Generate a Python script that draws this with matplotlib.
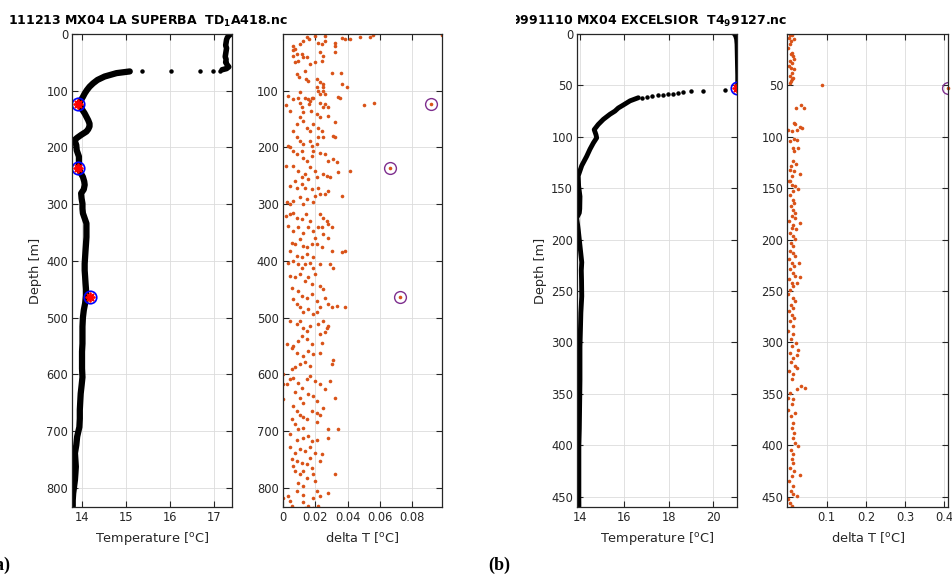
import matplotlib.pyplot as plt
from matplotlib.transforms import Bbox, TransformedBbox

# ---------------- (a) 111213 MX04 LA SUPERBA, TD1A418 ----------------
# temperature, mixed layer above the jump
depth_a_top = [0, 3, 6, 10, 15, 20, 25, 30, 35, 40, 45, 50, 55, 58, 61, 63]
temp_a_top = [17.38, 17.33, 17.30, 17.28, 17.27, 17.26, 17.28, 17.27,
              17.26, 17.25, 17.27, 17.26, 17.30, 17.33, 17.28, 17.18]
# isolated samples across the jump
depth_a_jump = [66, 66, 66, 66, 65]
temp_a_jump = [15.36, 16.03, 16.69, 16.97, 17.14]
# below the jump
depth_a = [66, 69, 75, 81, 87, 93, 99, 105, 111, 116,
           123, 128, 134, 140, 146, 152, 158, 163, 168, 172,
           178, 183, 187, 196, 205, 216, 228, 237, 245, 252,
           260, 266, 274, 281, 290, 299, 308, 316, 325, 334,
           346, 358, 370, 381, 393, 405, 417, 428, 440, 450,
           461, 475, 487, 500, 516, 531, 546, 560, 575, 590,
           605, 620, 634, 648, 663, 678, 693, 710, 725, 739,
           751, 763, 775, 786, 798, 810, 822, 833]
temp_a = [15.09, 14.79, 14.52, 14.36, 14.26, 14.18, 14.12, 14.07, 14.03, 13.99,
          13.94, 13.98, 14.02, 14.07, 14.11, 14.15, 14.18, 14.18, 14.15, 14.11,
          13.99, 13.90, 13.84, 13.88, 13.89, 13.94, 13.94, 13.93, 13.98, 14.03,
          14.06, 14.07, 14.05, 13.99, 14.00, 14.02, 14.02, 14.03, 14.07, 14.11,
          14.11, 14.11, 14.10, 14.09, 14.08, 14.07, 14.07, 14.08, 14.09, 14.10,
          14.10, 14.08, 14.05, 14.03, 14.02, 14.02, 14.02, 14.01, 14.01, 14.01,
          14.02, 14.00, 13.98, 13.97, 13.96, 13.96, 13.95, 13.90, 13.88, 13.85,
          13.86, 13.87, 13.86, 13.85, 13.83, 13.81, 13.80, 13.80]

# delta T samples
dt_depth_a = [21, 26, 29, 18, 12, 6, 9, 15, 18, 12, 15, 21, 7, 9, 9, 6, 6, 1, 3, 3, 2,
              38, 35, 36, 41, 40, 50, 48, 53, 50, 32, 47, 38, 32, 68, 68, 88, 93, 112, 111,
              71, 76, 65, 79, 82, 79, 85, 88, 94, 100, 100, 105, 103, 109, 112, 118, 112, 94,
              126, 135, 115, 112, 121, 129, 138, 115, 124, 135,
              112, 106, 121, 129, 124, 129, 125, 122, 141, 147,
              147, 153, 159, 165, 171, 159, 165, 171, 144, 156,
              179, 182, 171, 182, 188, 194, 188, 197, 194, 182, 182, 197,
              200, 206, 212, 206, 218, 224, 215, 206, 209, 212,
              224, 221, 226, 244, 241, 232, 232, 241, 253, 247,
              256, 235, 241, 253, 247, 250, 253, 259, 268, 271,
              265, 271, 274, 271, 282, 276, 282, 285, 297, 300,
              294, 288, 300, 291, 297, 285,
              321, 318, 315, 324, 326, 318, 329, 318, 324, 329,
              335, 341, 338, 347, 341, 350, 341, 347, 359, 341,
              341, 353, 359, 368, 371, 362, 374, 376, 371, 371,
              376, 382, 385, 382, 382, 391, 394, 388, 394,
              403, 400, 406, 412, 406, 403, 412, 406, 406, 412,
              426, 429, 424, 435, 429, 441, 424, 444, 450, 465,
              476, 482, 479, 482, 447, 453, 462, 465, 459, 471,
              482, 468, 476, 482, 491, 485, 494, 491,
              506, 512, 506, 518, 524, 515, 512, 506, 518, 515,
              547, 550, 541, 532, 538, 547, 529, 544, 526, 553,
              562, 568, 559, 565, 562, 574, 581, 591, 588, 582,
              579, 585, 600,
              618, 618, 609, 606, 615, 624, 609, 603, 612, 618,
              626, 612, 644, 632, 641, 650, 635, 638, 647, 659,
              641, 656, 665, 671, 676, 679, 665, 668, 671, 679,
              688, 697, 694, 685, 697, 697,
              706, 715, 712, 709, 718, 715, 712, 729, 738, 732,
              735, 729, 738, 741, 750, 753, 756, 759, 747, 753,
              762, 771, 776, 771, 782, 765, 776, 776, 791, 797, 788,
              818, 815, 824, 832, 806, 812, 826, 832, 818, 806, 815, 809, 832, 835, 835]
dt_a = [.0066, .0076, .0062, .0107, .0128, .0148, .0165, .0220, .0241, .0262,
        .0323, .0323, .0365, .0385, .0416, .0474, .0536, .0560, .0200, .0262, .0985,
        .0066, .0086, .0117, .0128, .0148, .0076, .0097, .0169, .0200, .0231,
        .0241, .0251, .0323, .0303, .0361, .0365, .0396, .0354, .0344,
        .0086, .0103, .0138, .0144, .0159, .0210, .0231, .0251, .0247, .0220,
        .0251, .0262, .0107, .0035, .0138, .0169, .0179, .0210,
        .0021, .0045, .0066, .0097, .0107, .0117, .0128, .0159, .0165, .0173,
        .0190, .0231, .0231, .0251, .0262, .0282, .0499, .0564, .0210, .0231,
        .0107, .0128, .0086, .0148, .0169, .0190, .0220, .0241, .0282, .0323,
        .0313, .0323, .0066, .0086, .0107, .0128, .0169, .0179, .0210, .0220, .0251, .0035,
        .0045, .0066, .0086, .0117, .0128, .0148, .0179, .0190, .0231, .0262,
        .0282, .0313, .0334, .0344, .0416, .0021, .0066, .0097, .0117, .0138,
        .0159, .0169, .0200, .0210, .0251, .0272, .0293, .0076, .0045, .0086,
        .0117, .0138, .0179, .0220, .0231, .0282, .0262, .0365, .0025, .0045,
        .0066, .0107, .0128, .0148, .0185, .0200,
        .0021, .0045, .0066, .0086, .0117, .0144, .0169, .0231, .0251, .0272,
        .0282, .0303, .0035, .0066, .0097, .0128, .0159, .0190, .0200, .0220,
        .0241, .0251, .0282, .0056, .0076, .0107, .0128, .0148, .0179, .0210,
        .0241, .0303, .0365, .0385, .0045, .0086, .0117, .0148, .0190,
        .0035, .0066, .0097, .0117, .0138, .0169, .0190, .0231, .0293, .0313,
        .0045, .0076, .0107, .0138, .0159, .0179, .0200, .0231, .0251, .0262,
        .0282, .0303, .0334, .0385, .0056, .0097, .0117, .0148, .0179, .0210,
        .0231, .0066, .0086, .0107, .0128, .0159, .0185, .0210,
        .0045, .0086, .0107, .0128, .0148, .0169, .0220, .0251, .0272, .0282,
        .0025, .0066, .0097, .0117, .0148, .0179, .0231, .0241, .0262, .0056,
        .0086, .0128, .0159, .0190, .0231, .0313, .0303, .0056, .0076, .0107,
        .0138, .0169, .0004,
        .0004, .0025, .0045, .0066, .0097, .0117, .0148, .0169, .0200, .0231,
        .0262, .0293, .0004, .0076, .0107, .0128, .0159, .0190, .0210, .0251,
        .0323, .0066, .0086, .0107, .0128, .0148, .0179, .0210, .0231, .0056,
        .0076, .0097, .0128, .0210, .0282, .0344,
        .0045, .0086, .0128, .0159, .0179, .0210, .0282, .0045, .0076, .0107,
        .0138, .0169, .0200, .0241, .0056, .0086, .0117, .0148, .0169, .0231,
        .0066, .0076, .0107, .0128, .0148, .0179, .0190, .0323, .0097, .0128, .0200,
        .0004, .0035, .0045, .0056, .0086, .0128, .0128, .0159, .0190, .0210,
        .0231, .0282, .0220, .0138, .0190]

# flagged samples (spikes)
flag_depth_a = [123, 237, 463]
flag_temp_a = [13.93, 13.93, 14.18]
flag_dt_a = [0.0915, 0.0663, 0.0725]

# ---------------- (b) 9991110 MX04 EXCELSIOR, T49127 ----------------
depth_b_top = [0, 2, 5, 10, 20, 30, 40, 50, 54]
temp_b_top = [20.93, 20.99, 21.03, 21.05, 21.06, 21.07, 21.08, 21.08, 21.08]
depth_b_jump = [54.9, 55.3, 55.9, 56.6, 57.2, 57.9, 58.5, 59.1, 59.8, 60.4, 61.1, 62.0]
temp_b_jump = [20.53, 19.52, 18.98, 18.65, 18.43, 18.20, 17.98, 17.75, 17.50, 17.23,
               17.00, 16.78]
depth_b = [62, 65, 69, 72, 75, 78, 83, 88, 93, 98,
           101, 106, 112, 119, 128, 138, 148, 158, 170, 174,
           179, 185, 190, 198, 206, 214, 222, 230, 239, 255,
           271, 288, 304, 320, 336, 352, 368, 384, 401, 417,
           433, 446, 460]
temp_b = [16.63, 16.26, 15.96, 15.73, 15.58, 15.36, 15.06, 14.83, 14.65, 14.73,
          14.76, 14.61, 14.46, 14.31, 14.09, 13.93, 13.95, 14.01, 14.00, 13.98,
          13.86, 13.90, 13.93, 13.97, 14.01, 14.05, 14.09, 14.07, 14.08, 14.09,
          14.05, 14.03, 14.01, 14.01, 14.01, 14.00, 13.99, 13.98, 13.96, 13.96,
          13.96, 13.96, 13.96]

dt_depth_b = [0.5, 0.5, 3.7, 7, 5.3, 10.2, 13.5, 18.3, 19.9, 21.5,
              24.1, 26.4, 28, 31.3, 32.9, 34.5, 37.8, 41, 42.6, 44.2, 45.8, 47.5, 50,
              71.8, 69.5, 72.4, 86.4, 87.4, 90.3, 91.9, 92.9, 93.5, 94.5,
              102.6, 104.2, 103.3, 110.7, 110.7, 113.9, 123.7, 128.5, 126.9, 131.8,
              133.4, 136.6, 138.2, 143.1, 148,
              150.6, 183.6, 222.5, 236.5, 242, 307.5, 311.7, 324.6, 344.1, 342.5,
              345.7, 400.8, 429.3, 452.7, 449.4,
              143.1, 146.4, 152.8, 156.1, 161, 164.2, 167.4, 170.7, 173.9,
              177.2, 178.8, 182, 185.3, 188.5, 190.1, 193.4, 196.6, 199.8, 203.1, 206.3,
              211.2, 212.8, 216, 219.3, 222.5, 225.8, 229, 232.3, 235.5, 238.7,
              242, 245.2, 248.5, 253.3, 256.6, 259.8, 263.1, 266.3, 269.5,
              272.8, 276, 279.3, 284.1, 289, 292.2, 296.4, 300.3, 303.6,
              310, 314.9, 319.1, 323, 327.9, 331.1, 336,
              349, 353.8, 355.4, 360.3, 365.2, 368.4, 371.7,
              378.1, 383, 387.9, 392.7, 397.6, 404.1, 408.9,
              413.8, 417, 421.9, 425.1, 430, 434.9, 439.7, 444.6, 447.8, 455.9, 459]
dt_b = [.0068, .0110, .0047, .0085, .0153, .0068, .0020, .0110, .0085, .0136,
        .0170, .0068, .0110, .0047, .0085, .0153, .0110, .0068, .0136, .0110, .0085, .0068, .0872,
        .0217, .0336, .0430, .0170, .0191, .0311, .0370, .0234, .0021, .0110,
        .0153, .0068, .0251, .0136, .0280, .0153, .0136, .0085, .0217, .0068,
        .0153, .0319, .0110, .0068, .0191,
        .0276, .0319, .0300, .0319, .0251, .0276, .0234, .0251, .0446, .0336,
        .0251, .0276, .0319, .0004, .0234,
        .0047, .0106, .0149, .0064, .0132, .0174, .0081, .0149, .0191,
        .0106, .0191, .0047, .0149, .0106, .0217, .0064, .0149, .0191, .0089, .0149,
        .0064, .0149, .0191, .0047, .0106, .0174, .0064, .0132, .0191, .0038,
        .0106, .0149, .0064, .0021, .0132, .0191, .0089, .0149, .0047,
        .0106, .0174, .0064, .0132, .0021, .0149, .0081, .0208, .0106,
        .0064, .0149, .0089, .0191, .0047, .0132, .0106,
        .0064, .0021, .0149, .0106, .0004, .0191, .0081,
        .0149, .0106, .0174, .0132, .0191, .0089, .0149,
        .0106, .0149, .0064, .0174, .0106, .0047, .0149, .0081, .0132, .0064, .0106]

flag_depth_b = [53]
flag_temp_b = [21.08]
flag_dt_b = [0.41]

ORANGE = '#D95319'
PURPLE = '#7E2F8E'
INK = '#262626'


def matlab_axes(ax):
    ax.tick_params(direction='in', top=True, right=True, length=4, width=0.8,
                   colors=INK, labelsize=8.3, pad=3)
    ax.grid(True, color='#dcdcdc', lw=0.6)
    ax.set_axisbelow(True)
    for s in ax.spines.values():
        s.set_color(INK)
        s.set_linewidth(0.9)


W, H = 953, 575
fig = plt.figure(figsize=(9.53, 5.75), dpi=100)
bot, hgt = (H - 507) / H, 473 / H
ax1 = fig.add_axes([72.3 / W, bot, 160 / W, hgt])
ax2 = fig.add_axes([282.7 / W, bot, 159.6 / W, hgt])
ax3 = fig.add_axes([577.3 / W, bot, 159.4 / W, hgt])
ax4 = fig.add_axes([787.5 / W, bot, 160.8 / W, hgt])

degC = r'[$^\mathrm{o}$C]'

# (a) temperature
ax1.plot(temp_a_top, depth_a_top, color='k', lw=4, solid_capstyle='round')
ax1.plot(temp_a, depth_a, color='k', lw=4.5, solid_capstyle='round')
ax1.plot(temp_a_jump, depth_a_jump, 'o', color='k', ms=2.2)
ax1.plot(flag_temp_a, flag_depth_a, 'o', mfc='none', mec='blue', ms=9, mew=1.2)
ax1.plot(flag_temp_a, flag_depth_a, marker=(8, 2, 0), ls='none', color='red', ms=7, mew=1.3)
ax1.set_xlim(13.79, 17.41)
ax1.set_ylim(834, 0)
ax1.set_xticks([14, 15, 16, 17])
ax1.set_yticks(range(0, 801, 100))
ax1.set_xlabel('Temperature ' + degC, fontsize=9.3, color=INK)
ax1.set_ylabel('Depth [m]', fontsize=9.3, color=INK)
ax1.yaxis.set_label_coords(-0.19, 0.5)
matlab_axes(ax1)

# (a) delta T
ax2.plot(dt_a, dt_depth_a, 'o', color=ORANGE, ms=2.6, mec='none')
ax2.plot(flag_dt_a, flag_depth_a, 'o', color=ORANGE, ms=2.6, mec='none')
ax2.plot(flag_dt_a, flag_depth_a, 'o', mfc='none', mec=PURPLE, ms=8.5, mew=1.0)
ax2.set_xlim(0, 0.0985)
ax2.set_ylim(834, 0)
ax2.set_xticks([0, 0.02, 0.04, 0.06, 0.08])
ax2.set_xticklabels(['0', '0.02', '0.04', '0.06', '0.08'])
ax2.set_yticks(range(100, 801, 100))
ax2.set_xlabel('delta T ' + degC, fontsize=9.3, color=INK)
matlab_axes(ax2)

# (b) temperature
ax3.plot(temp_b_top, depth_b_top, color='k', lw=3, solid_capstyle='round')
ax3.plot(temp_b, depth_b, color='k', lw=3.5, solid_capstyle='round')
ax3.plot(temp_b_jump, depth_b_jump, 'o', color='k', ms=2.2)
ax3.plot(flag_temp_b, flag_depth_b, 'o', mfc='none', mec='blue', ms=9, mew=1.2)
ax3.plot(flag_temp_b, flag_depth_b, marker=(8, 2, 0), ls='none', color='red', ms=7, mew=1.3)
ax3.set_xlim(13.89, 21.05)
ax3.set_ylim(460, 0)
ax3.set_xticks([14, 16, 18, 20])
ax3.set_yticks(range(0, 451, 50))
ax3.set_xlabel('Temperature ' + degC, fontsize=9.3, color=INK)
ax3.set_ylabel('Depth [m]', fontsize=9.3, color=INK)
ax3.yaxis.set_label_coords(-0.19, 0.5)
matlab_axes(ax3)

# (b) delta T
ax4.plot(dt_b, dt_depth_b, 'o', color=ORANGE, ms=2.6, mec='none')
ax4.plot(flag_dt_b, flag_depth_b, 'o', color=ORANGE, ms=2.6, mec='none', clip_on=False)
ax4.plot(flag_dt_b, flag_depth_b, 'o', mfc='none', mec=PURPLE, ms=8.5, mew=1.0)
ax4.set_xlim(0, 0.41)
ax4.set_ylim(460, 0)
ax4.set_xticks([0.1, 0.2, 0.3, 0.4])
ax4.set_yticks(range(50, 451, 50))
ax4.set_xlabel('delta T ' + degC, fontsize=9.3, color=INK)
matlab_axes(ax4)

# titles
fig.text(8 / W, (H - 25) / H, r'111213 MX04 LA SUPERBA  TD$_\mathbf{1}$A418.nc',
         fontsize=9, fontweight='bold', va='baseline', ha='left')
tb = fig.text(511 / W, (H - 25) / H, r'9991110 MX04 EXCELSIOR  T4$_\mathbf{9}$9127.nc',
              fontsize=9, fontweight='bold', va='baseline', ha='left')
tb.set_clip_box(TransformedBbox(Bbox([[516 / W, 0], [1, 1]]), fig.transFigure))
tb.set_clip_on(True)

# panel letters (the left one is cut by the page edge, as in the source)
fig.text(-11 / W, (H - 565) / H, '(a)', fontsize=13, fontweight='bold',
         family='Liberation Serif', va='center', ha='left')
fig.text(488 / W, (H - 565) / H, '(b)', fontsize=13, fontweight='bold',
         family='Liberation Serif', va='center', ha='left')

fig.savefig('out.png', dpi=100)
